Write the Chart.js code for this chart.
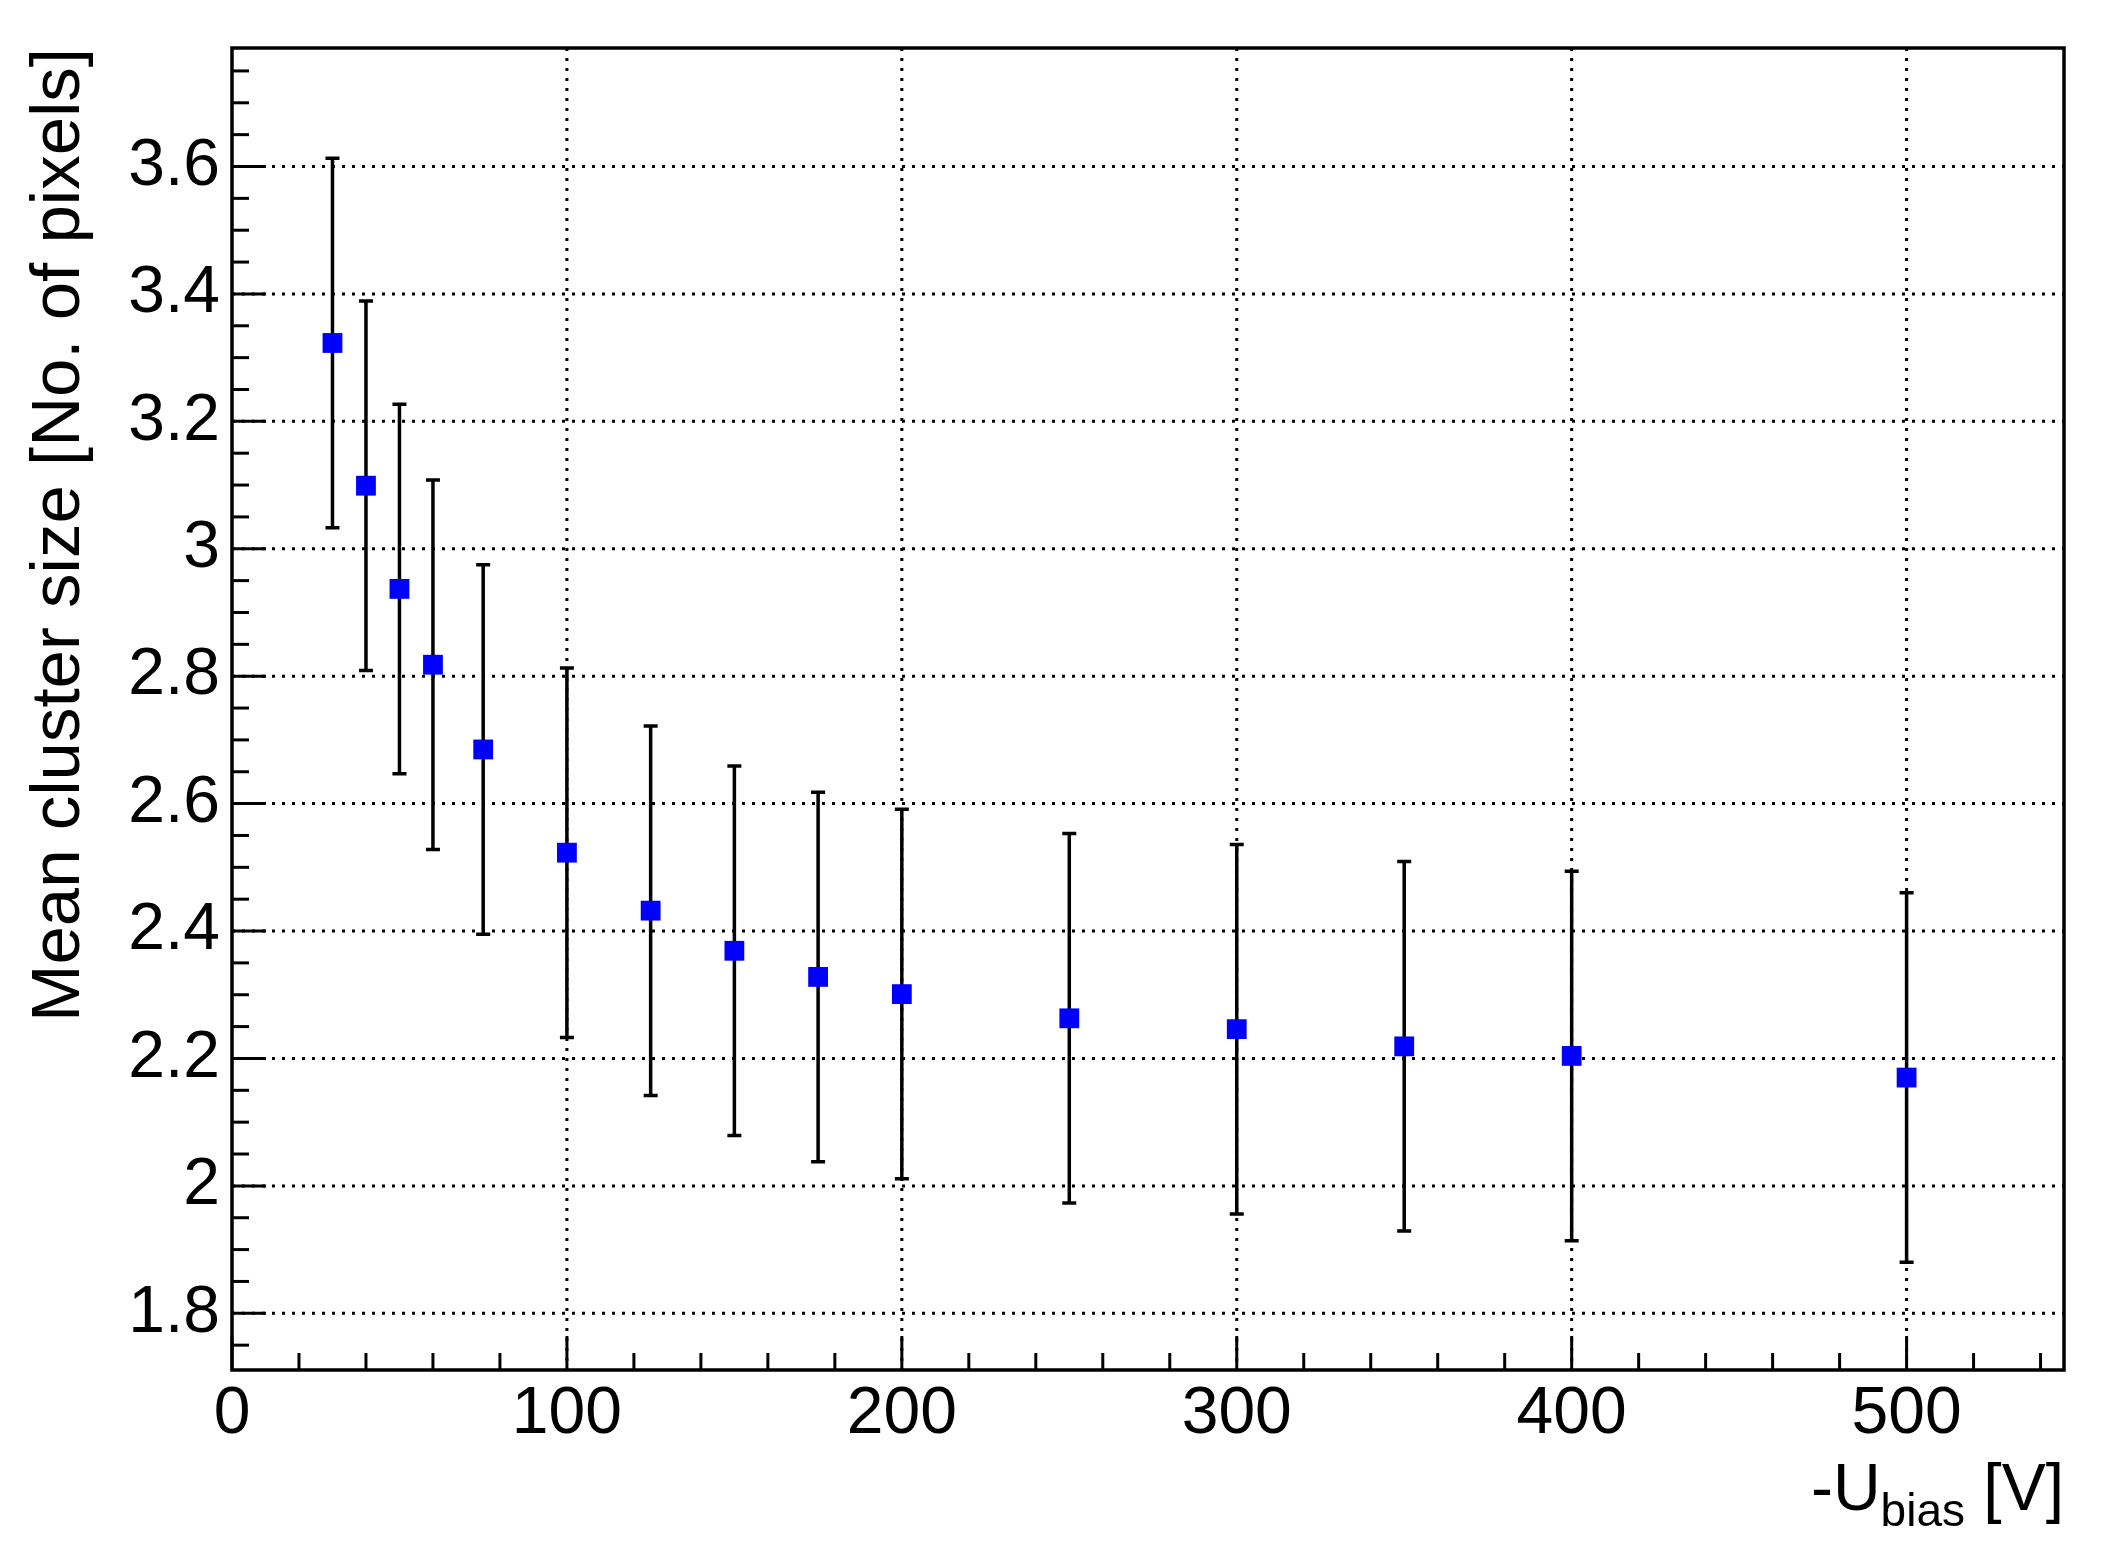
<!DOCTYPE html>
<html>
<head>
<meta charset="utf-8">
<script src="https://cdn.jsdelivr.net/npm/chart.js@4"></script>
<style>
html, body { margin: 0; padding: 0; background: #fff; }
#wrap { width: 2111px; height: 1568px; }
</style>
</head>
<body>
<div id="wrap"><canvas id="c" width="2111" height="1568"></canvas></div>
<script>
// bias voltage (V) and mean cluster size with errors
var biasVolts = [30, 40, 50, 60, 75, 100, 125, 150, 175, 200, 250, 300, 350, 400, 500];
var clusterSize = [3.323, 3.099, 2.937, 2.818, 2.685, 2.523, 2.432, 2.369, 2.328, 2.301, 2.263, 2.246, 2.219, 2.204, 2.170];
var clusterErr = [0.29, 0.29, 0.29, 0.29, 0.29, 0.29, 0.29, 0.29, 0.29, 0.29, 0.29, 0.29, 0.29, 0.29, 0.29];
var xTicks = [0, 100, 200, 300, 400, 500];
var yTicks = [1.8, 2, 2.2, 2.4, 2.6, 2.8, 3, 3.2, 3.4, 3.6];

var FONT = '"Liberation Sans", Arial, sans-serif';

var rootAxes = {
    id: 'rootAxes',
    beforeDatasetsDraw: function(chart) {
        var ctx = chart.ctx, a = chart.chartArea;
        var xs = chart.scales.x, ys = chart.scales.y;
        ctx.save();
        // dotted grid
        ctx.strokeStyle = '#000';
        ctx.lineWidth = 3;
        ctx.setLineDash([3, 7]);
        xTicks.forEach(function(v) {
            if (v <= 0) return;
            var px = xs.getPixelForValue(v);
            ctx.beginPath(); ctx.moveTo(px, a.top); ctx.lineTo(px, a.bottom); ctx.stroke();
        });
        yTicks.forEach(function(v) {
            var py = ys.getPixelForValue(v);
            ctx.beginPath(); ctx.moveTo(a.left, py); ctx.lineTo(a.right, py); ctx.stroke();
        });
        ctx.setLineDash([]);
        // tick marks inside frame
        ctx.lineWidth = 3;
        for (var v = 0; v <= 547; v += 20) {
            var px = xs.getPixelForValue(v);
            var len = (v % 100 === 0) ? 34 : 17;
            ctx.beginPath(); ctx.moveTo(px, a.bottom); ctx.lineTo(px, a.bottom - len); ctx.stroke();
        }
        for (var i = 0; i * 0.05 + 1.75 <= 3.79; i++) {
            var yv = 1.75 + i * 0.05;
            if (yv < ys.min) continue;
            var py = ys.getPixelForValue(yv);
            var major = (i % 4 === 1);
            ctx.beginPath(); ctx.moveTo(a.left, py); ctx.lineTo(a.left + (major ? 34 : 17), py); ctx.stroke();
        }
        // frame
        ctx.lineWidth = 3.5;
        ctx.strokeRect(a.left, a.top, a.right - a.left, a.bottom - a.top);
        // tick labels
        ctx.fillStyle = '#000';
        ctx.font = '66px ' + FONT;
        ctx.textAlign = 'center'; ctx.textBaseline = 'top';
        xTicks.forEach(function(v) {
            ctx.fillText(String(v), xs.getPixelForValue(v), a.bottom + 12);
        });
        ctx.textAlign = 'right'; ctx.textBaseline = 'middle';
        yTicks.forEach(function(v) {
            ctx.fillText(String(Math.round(v * 10) / 10), a.left - 12, ys.getPixelForValue(v));
        });
        // axis titles
        ctx.save();
        ctx.translate(60, a.top);
        ctx.rotate(-Math.PI / 2);
        ctx.textAlign = 'right'; ctx.textBaseline = 'middle';
        ctx.font = '69px ' + FONT;
        ctx.fillText('Mean cluster size [No. of pixels]', 0, 0);
        ctx.restore();
        ctx.textAlign = 'left'; ctx.textBaseline = 'alphabetic';
        var t1 = '-U', t2 = 'bias', t3 = ' [V]';
        ctx.font = '66px ' + FONT; var w1 = ctx.measureText(t1).width, w3 = ctx.measureText(t3).width;
        ctx.font = '46px ' + FONT; var w2 = ctx.measureText(t2).width;
        var x0 = a.right - w1 - w2 - w3, yb = a.bottom + 140;
        ctx.font = '66px ' + FONT; ctx.fillText(t1, x0, yb);
        ctx.font = '46px ' + FONT; ctx.fillText(t2, x0 + w1, yb + 16);
        ctx.font = '66px ' + FONT; ctx.fillText(t3, x0 + w1 + w2, yb);
        // error bars
        ctx.lineWidth = 3.5;
        biasVolts.forEach(function(x, k) {
            var px = xs.getPixelForValue(x);
            var hi = ys.getPixelForValue(clusterSize[k] + clusterErr[k]);
            var lo = ys.getPixelForValue(clusterSize[k] - clusterErr[k]);
            ctx.beginPath();
            ctx.moveTo(px, hi); ctx.lineTo(px, lo);
            ctx.moveTo(px - 7, hi); ctx.lineTo(px + 7, hi);
            ctx.moveTo(px - 7, lo); ctx.lineTo(px + 7, lo);
            ctx.stroke();
        });
        ctx.restore();
    }
};

new Chart(document.getElementById('c'), {
    type: 'scatter',
    data: {
        datasets: [{
            data: biasVolts.map(function(x, i) { return {x: x, y: clusterSize[i]}; }),
            pointStyle: 'rect',
            pointRadius: 14,
            backgroundColor: '#0000ff',
            borderWidth: 0
        }]
    },
    options: {
        responsive: false,
        animation: false,
        devicePixelRatio: 1,
        layout: { padding: { left: 232, right: 47, top: 48, bottom: 198 } },
        scales: {
            x: { type: 'linear', min: 0, max: 547, display: false },
            y: { type: 'linear', min: 1.711, max: 3.786, display: false }
        },
        plugins: { legend: { display: false }, tooltip: { enabled: false } }
    },
    plugins: [rootAxes]
});
</script>
</body>
</html>
